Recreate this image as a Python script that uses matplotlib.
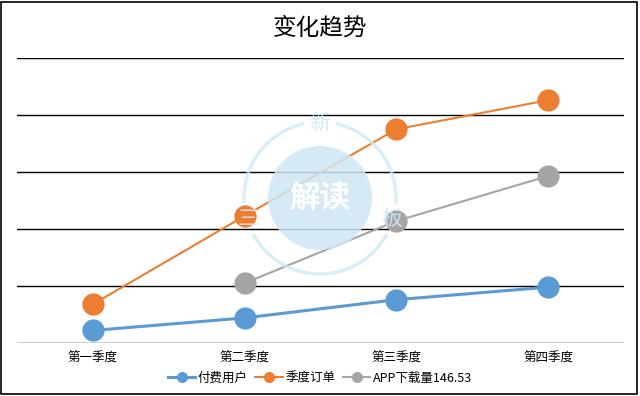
"""Quarterly trend line chart (变化趋势) with the 新三板解读 watermark."""

import matplotlib
matplotlib.use("Agg")
import matplotlib.pyplot as plt
from matplotlib.patches import Arc, Circle, Rectangle
import numpy as np

plt.rcParams["font.family"] = ["Noto Sans CJK SC", "DejaVu Sans"]

quarters = ["第一季度", "第二季度", "第三季度", "第四季度"]
paid_users = [2.2, 4.4, 7.6, 9.8]
orders = [6.8, 22.3, 37.5, 42.6]
app_downloads = [np.nan, 10.5, 21.4, 29.3]
series_names = ["付费用户", "季度订单", "APP下载量146.53"]

colors = ["#5B9BD5", "#ED7D31", "#A5A5A5"]
line_widths = [2.2, 1.5, 1.5]

fig = plt.figure(figsize=(6.4, 3.96), dpi=100)
ax = fig.add_axes([17 / 640, 53 / 396, 607 / 640, 285 / 396])

x = np.arange(len(quarters))
for vals, name, c, lw in zip([paid_users, orders, app_downloads], series_names, colors, line_widths):
    ax.plot(x, vals, color=c, lw=lw, marker="o", markersize=16,
            markeredgewidth=0, label=name, zorder=3)

ax.set_xlim(-0.5, 3.5)
ax.set_ylim(0, 50)
ax.set_yticks(np.arange(0, 51, 10))
ax.yaxis.grid(True, color="black", lw=1)
ax.set_axisbelow(True)
ax.tick_params(axis="y", left=False, labelleft=False)
ax.tick_params(axis="x", length=0, pad=6, labelsize=9)
ax.set_xticks(x)
ax.set_xticklabels(quarters)
for s in ax.spines.values():
    s.set_visible(False)

fig.text(0.5, 1 - 28 / 396, "变化趋势", ha="center", va="center", fontsize=17)

handles, labels = ax.get_legend_handles_labels()
leg = fig.legend(handles, labels, loc="center", bbox_to_anchor=(0.5, 18 / 396),
                 ncol=3, frameon=False, fontsize=9, handlelength=2.2,
                 handletextpad=0.2, columnspacing=0.6, markerscale=0.5)

# watermark
wm = "#cfe7f4"
tr = fig.dpi_scale_trans
cx, cy = 3.20, 1.98
fig.add_artist(Circle((cx, cy), 0.52, transform=tr, color=wm, alpha=0.85, zorder=5, lw=0))
for t1, t2 in [(102, 184), (208, 332), (356, 438)]:
    fig.add_artist(Arc((cx, cy), 1.52, 1.52, theta1=t1, theta2=t2, transform=tr,
                       color=wm, lw=2.5, alpha=0.75, zorder=5))
fig.text(cx, cy - 0.01, "解读", transform=tr, ha="center", va="center",
         fontsize=22, color="white", fontweight="bold", zorder=6)
for ang, ch in [(90, "新"), (196, "三"), (-16, "板")]:
    r = 0.75
    fig.text(cx + r * np.cos(np.radians(ang)), cy + r * np.sin(np.radians(ang)), ch,
             transform=tr, ha="center", va="center", fontsize=15, color=wm,
             alpha=0.9, zorder=6)

fig.add_artist(Rectangle((0.002, 0.004), 0.994, 0.99, transform=fig.transFigure,
                         fill=False, edgecolor="black", lw=1.2))

fig.savefig("out.png", dpi=100)
